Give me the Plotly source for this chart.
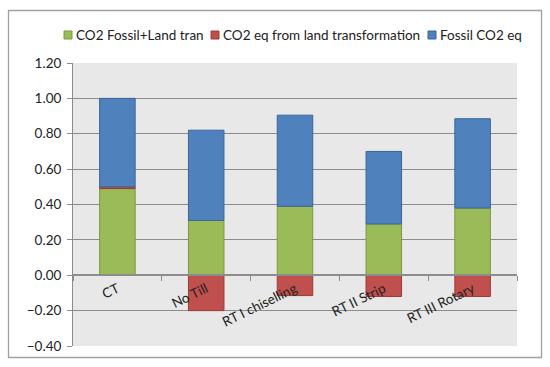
import plotly.graph_objects as go

categories = ["CT", "No Till", "RT I chiselling", "RT II Strip", "RT III Rotary"]
fossil_land = [0.49, 0.31, 0.39, 0.29, 0.38]
land_transf = [0.01, -0.20, -0.115, -0.12, -0.12]
fossil_co2 = [0.50, 0.51, 0.515, 0.41, 0.505]
y_ticks = [-0.40, -0.20, 0.00, 0.20, 0.40, 0.60, 0.80, 1.00, 1.20]

series_names = ["CO2 Fossil+Land tran", "CO2 eq from land transformation", "Fossil CO2 eq"]
series_colors = ["#9BBB59", "#C0504D", "#4F81BD"]
series_edges = ["#7A9A3E", "#9A3B38", "#3A659B"]

W, H = 550, 367
L, R, T, B = 73, 33, 63, 21
pw, ph = W - L - R, H - T - B

def fx(px):
    return (px - L) / pw

def fy(py):
    return 1 - (py - T) / ph

font_family = "Lato, 'Open Sans', sans-serif"
txt_color = "#222222"

fig = go.Figure()
for name, vals, col, edge in zip(series_names, [fossil_land, land_transf, fossil_co2],
                                 series_colors, series_edges):
    fig.add_trace(go.Bar(x=categories, y=vals, name=name, showlegend=False,
                         marker=dict(color=col, line=dict(color=edge, width=1))))

ymin, ymax = -0.40, 1.20
zero_frac = (0 - ymin) / (ymax - ymin)

# custom compact legend, as in the original
legend_sq_x = [64, 211, 428]
legend_txt_x = [74, 221, 438]
legend_y = 35
shapes = [dict(type="rect", xref="paper", yref="paper",
               x0=fx(8.5), x1=fx(541.5), y0=fy(357.5), y1=fy(10.5),
               line=dict(color="#A0A0A0", width=1.3), fillcolor="rgba(0,0,0,0)",
               layer="above")]
annotations = []
for sx, tx, name, col, edge in zip(legend_sq_x, legend_txt_x, series_names,
                                   series_colors, series_edges):
    shapes.append(dict(type="rect", xref="paper", yref="paper",
                       x0=fx(sx), x1=fx(sx + 8), y0=fy(legend_y + 4), y1=fy(legend_y - 4),
                       line=dict(color=edge, width=1), fillcolor=col))
    annotations.append(dict(xref="paper", yref="paper", x=fx(tx), y=fy(legend_y),
                            xanchor="left", yanchor="middle", showarrow=False,
                            text=name, font=dict(size=13.5, color=txt_color)))

fig.update_layout(
    width=W, height=H,
    margin=dict(l=L, r=R, t=T, b=B, autoexpand=False),
    barmode="relative",
    bargap=0.6,
    paper_bgcolor="white",
    plot_bgcolor="#E8E8E8",
    font=dict(family=font_family, size=13, color=txt_color),
    showlegend=False,
    xaxis=dict(
        anchor="free", position=zero_frac,
        showline=True, linecolor="#8C8C8C", linewidth=1.5,
        ticks="outside", tickson="boundaries", ticklen=5, tickcolor="#8C8C8C",
        tickangle=-26, showgrid=False, zeroline=False,
        tickfont=dict(size=13.5, color=txt_color),
    ),
    yaxis=dict(
        range=[ymin, ymax], tickvals=y_ticks, tickformat=".2f",
        showline=True, linecolor="#8C8C8C", linewidth=1,
        ticks="outside", ticklen=5, tickcolor="#8C8C8C",
        showgrid=True, gridcolor="#8C8C8C", gridwidth=1.2,
        zeroline=False, tickfont=dict(size=13.5, color=txt_color),
        ticklabelstandoff=3,
    ),
    shapes=shapes,
    annotations=annotations,
)

fig.write_html("out.html", config={"displayModeBar": False},
               post_script="document.body.style.margin='0';")
